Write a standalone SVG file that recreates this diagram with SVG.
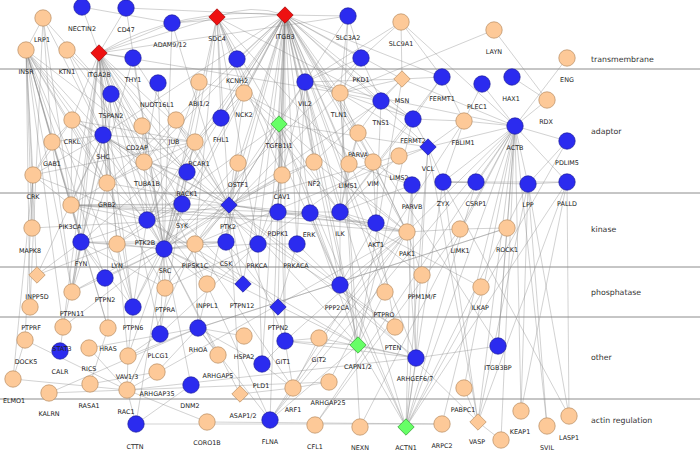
<svg xmlns="http://www.w3.org/2000/svg" xmlns:xlink="http://www.w3.org/1999/xlink" width="700" height="451" viewBox="0 0 700 451">
<style>
#connectors path{fill:none;stroke:#8a8a8a;stroke-opacity:.55;stroke-width:.7}
.sep{stroke:#8c8c8c;stroke-width:1}
.o{fill:#fdc998;stroke:#b88c62;stroke-width:.7}
.b{fill:#2b2bef;stroke:#1c1c9c;stroke-width:.7}
.r{fill:#ee1111;stroke:#a00000;stroke-width:.7}
.g{fill:#66ff66;stroke:#2f9a2f;stroke-width:.7}
.t{font-family:"DejaVu Sans",Verdana,sans-serif;font-size:6.4px;fill:#222;text-anchor:middle}
.s{font-family:"DejaVu Sans",Verdana,sans-serif;font-size:7.8px;fill:#333}
</style>
<defs>
<circle id="c" r="8.2"/>
<path id="d" d="M0-8.2L8.2 0 0 8.2-8.2 0Z"/>
</defs>
<rect width="700" height="451" fill="#fff"/>
<g id="connectors">
<path d="M217 17Q251 3 285 15"/><path d="M99 53Q180 5 285 15"/>
<path d="M285 15L348 16"/><path d="M285 15L172 23"/><path d="M285 15L126 8"/><path d="M285 15L237 59"/><path d="M285 15L305 82"/><path d="M285 15L340 93"/><path d="M285 15L279 124"/><path d="M285 15L221 118"/><path d="M285 15L244 93"/><path d="M285 15L361 58"/><path d="M285 15L381 101"/><path d="M285 15L402 79"/><path d="M285 15L442 77"/><path d="M285 15L413 119"/><path d="M285 15L428 147"/><path d="M285 15L358 133"/><path d="M285 15L349 164"/><path d="M285 15L314 162"/><path d="M285 15L282 175"/><path d="M285 15L238 163"/><path d="M285 15L187 172"/><path d="M285 15L195 142"/><path d="M285 15L229 205"/><path d="M285 15L182 204"/><path d="M285 15L164 249"/><path d="M285 15L147 220"/><path d="M285 15L340 212"/><path d="M285 15L278 212"/><path d="M285 15L310 213"/><path d="M285 15L376 223"/><path d="M285 15L407 232"/><path d="M285 15L258 244"/><path d="M285 15L226 242"/><path d="M285 15L243 284"/><path d="M285 15L278 307"/><path d="M285 15L340 285"/><path d="M285 15L285 341"/><path d="M285 15L358 345"/><path d="M285 15L416 358"/><path d="M285 15L406 427"/><path d="M285 15L270 420"/><path d="M285 15L498 346"/><path d="M285 15L107 183"/><path d="M285 15L103 135"/><path d="M285 15L144 162"/><path d="M285 15L262 364"/><path d="M285 15L297 244"/><path d="M285 15L373 162"/><path d="M285 15L385 292"/>
<path d="M99 53L126 8"/><path d="M99 53L82 7"/><path d="M99 53L172 23"/><path d="M99 53L133 58"/><path d="M99 53L111 94"/><path d="M99 53L217 17"/><path d="M99 53L103 135"/><path d="M99 53L72 120"/><path d="M99 53L142 126"/><path d="M99 53L187 172"/><path d="M99 53L229 205"/><path d="M99 53L164 249"/><path d="M99 53L182 204"/><path d="M99 53L133 307"/><path d="M99 53L81 242"/><path d="M99 53L117 244"/><path d="M99 53L71 205"/><path d="M99 53L147 220"/><path d="M99 53L340 93"/><path d="M99 53L160 334"/><path d="M99 53L60 351"/><path d="M99 53L270 420"/><path d="M99 53L128 356"/><path d="M99 53L72 292"/><path d="M99 53L144 162"/><path d="M99 53L107 183"/><path d="M99 53L195 142"/><path d="M99 53L348 16"/>
<path d="M26 50L103 135"/><path d="M26 50L107 183"/><path d="M26 50L52 142"/><path d="M26 50L71 205"/><path d="M26 50L72 292"/><path d="M26 50L30 307"/><path d="M26 50L105 278"/><path d="M26 50L207 284"/><path d="M26 50L33 175"/><path d="M26 50L81 242"/><path d="M26 50L164 249"/><path d="M26 50L133 307"/><path d="M26 50L63 327"/><path d="M26 50L165 288"/><path d="M26 50L108 328"/><path d="M26 50L37 275"/><path d="M26 50L32 228"/><path d="M26 50L229 205"/><path d="M26 50L43 18"/>
<path d="M43 18L103 135"/><path d="M43 18L52 142"/><path d="M43 18L71 205"/><path d="M43 18L30 307"/><path d="M43 18L111 94"/>
<path d="M67 50L103 135"/><path d="M67 50L187 172"/><path d="M67 50L144 162"/>
<path d="M133 58L164 249"/><path d="M133 58L81 242"/><path d="M133 58L229 205"/><path d="M172 23L217 17"/><path d="M172 23L164 249"/><path d="M172 23L229 205"/><path d="M82 7L172 23"/><path d="M126 8L164 249"/>
<path d="M217 17L244 93"/><path d="M217 17L221 118"/><path d="M217 17L258 244"/><path d="M217 17L229 205"/><path d="M217 17L164 249"/><path d="M217 17L406 427"/><path d="M217 17L182 204"/><path d="M217 17L279 124"/><path d="M217 17L282 175"/><path d="M217 17L195 244"/><path d="M217 17L413 119"/><path d="M217 17L237 59"/><path d="M217 17L349 164"/>
<path d="M348 16L305 82"/><path d="M348 16L361 58"/><path d="M348 16L340 93"/><path d="M348 16L340 212"/>
<path d="M401 22L402 79"/><path d="M401 22L361 58"/><path d="M401 22L442 77"/><path d="M401 22L515 126"/><path d="M401 22L305 82"/>
<path d="M494 30L340 93"/><path d="M494 30L547 100"/><path d="M567 58L515 126"/>
<path d="M361 58L305 82"/><path d="M361 58L340 93"/><path d="M361 58L381 101"/><path d="M361 58L164 249"/>
<path d="M305 82L340 93"/><path d="M305 82L229 205"/><path d="M305 82L195 244"/><path d="M305 82L314 162"/><path d="M305 82L282 175"/><path d="M305 82L297 244"/><path d="M305 82L515 126"/><path d="M305 82L402 79"/>
<path d="M402 79L340 93"/><path d="M402 79L381 101"/><path d="M402 79L515 126"/><path d="M402 79L314 162"/><path d="M402 79L358 345"/><path d="M402 79L442 77"/>
<path d="M442 77L340 212"/><path d="M442 77L464 121"/><path d="M442 77L413 119"/><path d="M482 84L515 126"/><path d="M482 84L464 121"/><path d="M512 77L547 100"/><path d="M547 100L515 126"/>
<path d="M381 101L229 205"/><path d="M381 101L340 93"/><path d="M381 101L413 119"/><path d="M381 101L376 223"/><path d="M381 101L358 133"/>
<path d="M413 119L464 121"/><path d="M413 119L340 212"/><path d="M413 119L340 93"/><path d="M413 119L428 147"/>
<path d="M464 121L515 126"/><path d="M464 121L428 147"/><path d="M464 121L443 182"/><path d="M464 121L270 420"/>
<path d="M515 126L507 228"/><path d="M515 126L460 229"/><path d="M515 126L406 427"/><path d="M515 126L442 424"/><path d="M515 126L315 425"/><path d="M515 126L478 422"/><path d="M515 126L528 184"/><path d="M515 126L567 182"/><path d="M515 126L443 182"/><path d="M515 126L567 141"/><path d="M515 126L464 388"/><path d="M515 126L521 411"/><path d="M515 126L547 426"/><path d="M515 126L476 182"/><path d="M515 126L498 346"/><path d="M515 126L407 232"/>
<path d="M567 141L528 184"/><path d="M567 141L406 427"/>
<path d="M567 182L569 416"/><path d="M567 182L478 422"/><path d="M567 182L406 427"/><path d="M567 182L443 182"/><path d="M567 182L528 184"/>
<path d="M528 184L443 182"/><path d="M528 184L478 422"/><path d="M528 184L406 427"/><path d="M528 184L569 416"/><path d="M528 184L547 426"/><path d="M528 184L521 411"/>
<path d="M72 120L103 135"/><path d="M72 120L52 142"/><path d="M72 120L33 175"/><path d="M72 120L195 142"/><path d="M72 120L71 205"/><path d="M72 120L107 183"/><path d="M72 120L229 205"/>
<path d="M103 135L107 183"/><path d="M103 135L229 205"/><path d="M103 135L164 249"/><path d="M103 135L81 242"/><path d="M103 135L71 205"/><path d="M103 135L52 142"/><path d="M103 135L33 175"/><path d="M103 135L72 292"/><path d="M103 135L182 204"/><path d="M103 135L195 142"/><path d="M103 135L144 162"/><path d="M103 135L133 307"/><path d="M103 135L243 284"/><path d="M103 135L37 275"/>
<path d="M142 126L144 162"/><path d="M142 126L187 172"/><path d="M142 126L164 249"/>
<path d="M176 120L195 142"/><path d="M176 120L229 205"/><path d="M176 120L144 162"/>
<path d="M279 124L229 205"/><path d="M279 124L147 220"/><path d="M279 124L282 175"/><path d="M279 124L428 147"/><path d="M279 124L340 212"/><path d="M279 124L285 341"/><path d="M279 124L340 285"/><path d="M279 124L406 427"/><path d="M279 124L278 212"/>
<path d="M244 93L407 232"/><path d="M244 93L340 212"/><path d="M244 93L229 205"/><path d="M244 93L199 82"/><path d="M244 93L412 185"/>
<path d="M199 82L147 220"/><path d="M199 82L164 249"/><path d="M158 83L144 162"/><path d="M158 83L164 249"/>
<path d="M111 94L144 162"/><path d="M111 94L103 135"/><path d="M111 94L107 183"/>
<path d="M52 142L107 183"/><path d="M52 142L71 205"/><path d="M52 142L72 292"/><path d="M52 142L33 175"/>
<path d="M33 175L71 205"/><path d="M33 175L195 142"/><path d="M33 175L32 228"/><path d="M33 175L25 340"/><path d="M33 175L147 220"/><path d="M33 175L13 379"/>
<path d="M195 142L229 205"/><path d="M195 142L164 249"/><path d="M195 142L147 220"/><path d="M195 142L107 183"/><path d="M195 142L81 242"/><path d="M195 142L244 93"/>
<path d="M144 162L147 220"/><path d="M144 162L164 249"/><path d="M144 162L107 183"/><path d="M144 162L187 172"/>
<path d="M238 163L164 249"/><path d="M238 163L229 205"/><path d="M238 163L226 242"/>
<path d="M314 162L229 205"/><path d="M314 162L407 232"/><path d="M314 162L282 175"/>
<path d="M349 164L340 212"/><path d="M349 164L358 133"/><path d="M349 164L412 185"/><path d="M399 156L340 212"/>
<path d="M373 162L407 232"/><path d="M373 162L376 223"/><path d="M373 162L258 244"/>
<path d="M358 133L340 212"/><path d="M358 133L340 93"/><path d="M358 133L407 232"/>
<path d="M412 185L340 212"/><path d="M412 185L407 232"/><path d="M412 185L416 358"/><path d="M412 185L406 427"/>
<path d="M443 182L406 427"/><path d="M443 182L478 422"/><path d="M443 182L476 182"/><path d="M443 182L569 416"/><path d="M443 182L428 147"/><path d="M476 182L406 427"/>
<path d="M428 147L340 93"/><path d="M428 147L406 427"/><path d="M428 147L515 126"/><path d="M428 147L229 205"/><path d="M428 147L195 244"/><path d="M428 147L416 358"/><path d="M428 147L478 422"/>
<path d="M71 205L229 205"/><path d="M71 205L164 249"/><path d="M71 205L81 242"/><path d="M71 205L107 183"/><path d="M71 205L147 220"/><path d="M71 205L376 223"/><path d="M71 205L278 212"/><path d="M71 205L182 204"/>
<path d="M229 205L164 249"/><path d="M229 205L107 183"/><path d="M229 205L243 284"/><path d="M229 205L285 341"/><path d="M229 205L358 345"/><path d="M229 205L72 292"/><path d="M229 205L165 288"/><path d="M229 205L198 328"/><path d="M229 205L282 175"/><path d="M229 205L278 212"/><path d="M229 205L416 358"/><path d="M229 205L407 232"/><path d="M229 205L395 327"/><path d="M229 205L226 242"/><path d="M229 205L195 244"/><path d="M229 205L310 213"/><path d="M229 205L147 220"/>
<path d="M147 220L164 249"/><path d="M147 220L81 242"/><path d="M147 220L117 244"/><path d="M147 220L182 204"/><path d="M147 220L243 284"/><path d="M147 220L133 307"/><path d="M147 220L107 183"/>
<path d="M164 249L226 242"/><path d="M164 249L165 288"/><path d="M164 249L133 307"/><path d="M164 249L72 292"/><path d="M164 249L243 284"/><path d="M164 249L160 334"/><path d="M164 249L63 327"/><path d="M164 249L282 175"/><path d="M164 249L195 244"/><path d="M164 249L187 172"/><path d="M164 249L136 424"/><path d="M164 249L258 244"/><path d="M164 249L182 204"/><path d="M164 249L81 242"/><path d="M164 249L117 244"/><path d="M164 249L191 385"/><path d="M164 249L240 394"/><path d="M164 249L105 278"/><path d="M164 249L218 355"/><path d="M164 249L207 284"/>
<path d="M182 204L117 244"/><path d="M182 204L160 334"/><path d="M182 204L133 307"/><path d="M182 204L128 356"/><path d="M182 204L187 172"/>
<path d="M81 242L117 244"/><path d="M81 242L226 242"/><path d="M81 242L72 292"/><path d="M81 242L37 275"/><path d="M81 242L133 307"/><path d="M81 242L105 278"/><path d="M81 242L63 327"/>
<path d="M117 244L133 307"/><path d="M117 244L37 275"/><path d="M117 244L226 242"/>
<path d="M226 242L243 284"/><path d="M226 242L278 307"/>
<path d="M195 244L340 93"/><path d="M195 244L198 328"/><path d="M195 244L127 390"/><path d="M195 244L293 388"/>
<path d="M258 244L187 172"/><path d="M258 244L297 244"/><path d="M258 244L160 334"/><path d="M258 244L165 288"/><path d="M258 244L282 175"/><path d="M258 244L262 364"/>
<path d="M297 244L478 422"/><path d="M297 244L278 307"/>
<path d="M278 212L376 223"/><path d="M278 212L258 244"/><path d="M278 212L340 212"/>
<path d="M310 213L407 232"/><path d="M310 213L358 345"/><path d="M310 213L340 285"/><path d="M310 213L32 228"/>
<path d="M340 212L376 223"/><path d="M340 212L481 287"/><path d="M340 212L340 285"/><path d="M340 212L422 275"/>
<path d="M376 223L407 232"/><path d="M376 223L395 327"/>
<path d="M407 232L460 229"/><path d="M407 232L127 390"/><path d="M407 232L285 341"/><path d="M407 232L416 358"/><path d="M407 232L422 275"/><path d="M407 232L71 205"/>
<path d="M460 229L315 425"/><path d="M460 229L507 228"/><path d="M507 228L198 328"/><path d="M507 228L498 346"/>
<path d="M72 292L107 183"/><path d="M165 288L81 242"/><path d="M340 285L376 223"/><path d="M340 285L407 232"/><path d="M133 307L128 356"/>
<path d="M358 345L340 93"/><path d="M358 345L164 249"/><path d="M358 345L406 427"/><path d="M358 345L270 420"/><path d="M358 345L416 358"/><path d="M358 345L385 292"/><path d="M358 345L147 220"/><path d="M358 345L305 82"/><path d="M358 345L413 119"/><path d="M358 345L285 341"/>
<path d="M416 358L285 341"/><path d="M416 358L127 390"/><path d="M416 358L406 427"/><path d="M416 358L498 346"/>
<path d="M395 327L103 135"/>
<path d="M285 341L293 388"/><path d="M285 341L319 338"/><path d="M285 341L262 364"/>
<path d="M319 338L293 388"/><path d="M319 338L407 232"/><path d="M319 338L416 358"/>
<path d="M262 364L293 388"/><path d="M262 364L198 328"/><path d="M293 388L240 394"/><path d="M240 394L229 205"/>
<path d="M329 382L293 388"/><path d="M329 382L407 232"/><path d="M218 355L198 328"/><path d="M157 372L198 328"/><path d="M157 372L90 384"/>
<path d="M198 328L507 228"/><path d="M198 328L128 356"/><path d="M198 328L49 393"/><path d="M198 328L244 336"/>
<path d="M191 385L136 424"/><path d="M128 356L127 390"/><path d="M128 356L160 334"/>
<path d="M127 390L49 393"/><path d="M127 390L13 379"/><path d="M127 390L25 340"/><path d="M127 390L136 424"/><path d="M127 390L329 382"/><path d="M127 390L207 422"/>
<path d="M13 379L25 340"/><path d="M90 384L108 328"/><path d="M108 328L107 183"/><path d="M108 328L71 205"/><path d="M89 348L198 328"/><path d="M89 348L127 390"/>
<path d="M136 424L442 424"/><path d="M207 422L442 424"/>
<path d="M270 420L515 126"/><path d="M270 420L198 328"/><path d="M270 420L407 232"/>
<path d="M360 427L515 126"/><path d="M360 427L340 93"/>
<path d="M501 440L478 422"/><path d="M501 440L515 126"/><path d="M521 411L567 182"/><path d="M464 388L478 422"/>
</g>
<g id="separators">
<line class="sep" x1="0" y1="69" x2="700" y2="69"/>
<line class="sep" x1="0" y1="193" x2="700" y2="193"/>
<line class="sep" x1="0" y1="267" x2="700" y2="267"/>
<line class="sep" x1="0" y1="317" x2="700" y2="317"/>
<line class="sep" x1="0" y1="399" x2="700" y2="399"/>
</g>
<g id="section-labels">
<text class="s" x="591" y="62">transmembrane</text>
<text class="s" x="591" y="134">adaptor</text>
<text class="s" x="591" y="232">kinase</text>
<text class="s" x="591" y="295">phosphatase</text>
<text class="s" x="591" y="360">other</text>
<text class="s" x="591" y="423">actin regulation</text>
</g>
<g id="nodes">
<g id="n-NECTIN2"><use href="#c" x="82" y="7" class="b"/><text class="t" x="82" y="31">NECTIN2</text></g>
<g id="n-CD47"><use href="#c" x="126" y="8" class="b"/><text class="t" x="126" y="32">CD47</text></g>
<g id="n-LRP1"><use href="#c" x="43" y="18" class="o"/><text class="t" x="42" y="42">LRP1</text></g>
<g id="n-INSR"><use href="#c" x="26" y="50" class="o"/><text class="t" x="26" y="74">INSR</text></g>
<g id="n-KTN1"><use href="#c" x="67" y="50" class="o"/><text class="t" x="67" y="74">KTN1</text></g>
<g id="n-ITGA2B"><use href="#d" x="99" y="53" class="r"/><text class="t" x="99" y="77">ITGA2B</text></g>
<g id="n-ADAM9-12"><use href="#c" x="172" y="23" class="b"/><text class="t" x="170" y="47">ADAM9/12</text></g>
<g id="n-THY1"><use href="#c" x="133" y="58" class="b"/><text class="t" x="133" y="82">THY1</text></g>
<g id="n-SDC4"><use href="#d" x="217" y="17" class="r"/><text class="t" x="217" y="41">SDC4</text></g>
<g id="n-ITGB3"><use href="#d" x="285" y="15" class="r"/><text class="t" x="285" y="39">ITGB3</text></g>
<g id="n-SLC3A2"><use href="#c" x="348" y="16" class="b"/><text class="t" x="348" y="40">SLC3A2</text></g>
<g id="n-SLC9A1"><use href="#c" x="401" y="22" class="o"/><text class="t" x="401" y="46">SLC9A1</text></g>
<g id="n-LAYN"><use href="#c" x="494" y="30" class="o"/><text class="t" x="494" y="54">LAYN</text></g>
<g id="n-ENG"><use href="#c" x="567" y="58" class="o"/><text class="t" x="567" y="82">ENG</text></g>
<g id="n-PKD1"><use href="#c" x="361" y="58" class="b"/><text class="t" x="361" y="82">PKD1</text></g>
<g id="n-KCNH2"><use href="#c" x="237" y="59" class="b"/><text class="t" x="237" y="83">KCNH2</text></g>
<g id="n-NUDT16L1"><use href="#c" x="158" y="83" class="b"/><text class="t" x="157" y="107">NUDT16L1</text></g>
<g id="n-ABI1-2"><use href="#c" x="199" y="82" class="o"/><text class="t" x="199" y="106">ABI1/2</text></g>
<g id="n-TSPAN2"><use href="#c" x="111" y="94" class="b"/><text class="t" x="111" y="118">TSPAN2</text></g>
<g id="n-NCK2"><use href="#c" x="244" y="93" class="o"/><text class="t" x="244" y="117">NCK2</text></g>
<g id="n-VIL2"><use href="#c" x="305" y="82" class="b"/><text class="t" x="305" y="106">VIL2</text></g>
<g id="n-TLN1"><use href="#c" x="340" y="93" class="o"/><text class="t" x="339" y="117">TLN1</text></g>
<g id="n-MSN"><use href="#d" x="402" y="79" class="o"/><text class="t" x="402" y="103">MSN</text></g>
<g id="n-FERMT1"><use href="#c" x="442" y="77" class="b"/><text class="t" x="442" y="101">FERMT1</text></g>
<g id="n-PLEC1"><use href="#c" x="482" y="84" class="b"/><text class="t" x="477" y="109">PLEC1</text></g>
<g id="n-HAX1"><use href="#c" x="512" y="77" class="b"/><text class="t" x="511" y="101">HAX1</text></g>
<g id="n-RDX"><use href="#c" x="547" y="100" class="o"/><text class="t" x="546" y="124">RDX</text></g>
<g id="n-TNS1"><use href="#c" x="381" y="101" class="b"/><text class="t" x="381" y="125">TNS1</text></g>
<g id="n-FERMT2"><use href="#c" x="413" y="119" class="b"/><text class="t" x="413" y="143">FERMT2</text></g>
<g id="n-FBLIM1"><use href="#c" x="464" y="121" class="o"/><text class="t" x="463" y="145">FBLIM1</text></g>
<g id="n-ACTB"><use href="#c" x="515" y="126" class="b"/><text class="t" x="515" y="150">ACTB</text></g>
<g id="n-PDLIM5"><use href="#c" x="567" y="141" class="b"/><text class="t" x="567" y="165">PDLIM5</text></g>
<g id="n-CRKL"><use href="#c" x="72" y="120" class="o"/><text class="t" x="72" y="144">CRKL</text></g>
<g id="n-SHC"><use href="#c" x="103" y="135" class="b"/><text class="t" x="103" y="159">SHC</text></g>
<g id="n-CD2AP"><use href="#c" x="142" y="126" class="o"/><text class="t" x="137" y="150">CD2AP</text></g>
<g id="n-JUB"><use href="#c" x="176" y="120" class="o"/><text class="t" x="174" y="144">JUB</text></g>
<g id="n-FHL1"><use href="#c" x="221" y="118" class="b"/><text class="t" x="221" y="142">FHL1</text></g>
<g id="n-TGFB1I1"><use href="#d" x="279" y="124" class="g"/><text class="t" x="279" y="148">TGFB1I1</text></g>
<g id="n-PARVA"><use href="#c" x="358" y="133" class="o"/><text class="t" x="358" y="157">PARVA</text></g>
<g id="n-VCL"><use href="#d" x="428" y="147" class="b"/><text class="t" x="428" y="171">VCL</text></g>
<g id="n-GAB1"><use href="#c" x="52" y="142" class="o"/><text class="t" x="52" y="166">GAB1</text></g>
<g id="n-BCAR1"><use href="#c" x="195" y="142" class="o"/><text class="t" x="199" y="166">BCAR1</text></g>
<g id="n-TUBA1B"><use href="#c" x="144" y="162" class="o"/><text class="t" x="147" y="186">TUBA1B</text></g>
<g id="n-OSTF1"><use href="#c" x="238" y="163" class="o"/><text class="t" x="238" y="187">OSTF1</text></g>
<g id="n-NF2"><use href="#c" x="314" y="162" class="o"/><text class="t" x="314" y="186">NF2</text></g>
<g id="n-LIMS1"><use href="#c" x="349" y="164" class="o"/><text class="t" x="348" y="188">LIMS1</text></g>
<g id="n-VIM"><use href="#c" x="373" y="162" class="o"/><text class="t" x="373" y="186">VIM</text></g>
<g id="n-LIMS2"><use href="#c" x="399" y="156" class="o"/><text class="t" x="399" y="180">LIMS2</text></g>
<g id="n-CRK"><use href="#c" x="33" y="175" class="o"/><text class="t" x="33" y="199">CRK</text></g>
<g id="n-RACK1"><use href="#c" x="187" y="172" class="b"/><text class="t" x="187" y="196">RACK1</text></g>
<g id="n-CAV1"><use href="#c" x="282" y="175" class="o"/><text class="t" x="282" y="199">CAV1</text></g>
<g id="n-GRB2"><use href="#c" x="107" y="183" class="o"/><text class="t" x="107" y="207">GRB2</text></g>
<g id="n-PARVB"><use href="#c" x="412" y="185" class="b"/><text class="t" x="412" y="209">PARVB</text></g>
<g id="n-ZYX"><use href="#c" x="443" y="182" class="b"/><text class="t" x="443" y="206">ZYX</text></g>
<g id="n-CSRP1"><use href="#c" x="476" y="182" class="b"/><text class="t" x="476" y="206">CSRP1</text></g>
<g id="n-LPP"><use href="#c" x="528" y="184" class="b"/><text class="t" x="528" y="207">LPP</text></g>
<g id="n-PALLD"><use href="#c" x="567" y="182" class="b"/><text class="t" x="567" y="206">PALLD</text></g>
<g id="n-MAPK8"><use href="#c" x="32" y="228" class="o"/><text class="t" x="30" y="253">MAPK8</text></g>
<g id="n-PIK3CA"><use href="#c" x="71" y="205" class="o"/><text class="t" x="70" y="229">PIK3CA</text></g>
<g id="n-SYK"><use href="#c" x="182" y="204" class="b"/><text class="t" x="182" y="228">SYK</text></g>
<g id="n-PTK2"><use href="#d" x="229" y="205" class="b"/><text class="t" x="228" y="229">PTK2</text></g>
<g id="n-PTK2B"><use href="#c" x="147" y="220" class="b"/><text class="t" x="145" y="245">PTK2B</text></g>
<g id="n-PDPK1"><use href="#c" x="278" y="212" class="b"/><text class="t" x="278" y="236">PDPK1</text></g>
<g id="n-ERK"><use href="#c" x="310" y="213" class="b"/><text class="t" x="309" y="237">ERK</text></g>
<g id="n-ILK"><use href="#c" x="340" y="212" class="b"/><text class="t" x="340" y="236">ILK</text></g>
<g id="n-AKT1"><use href="#c" x="376" y="223" class="b"/><text class="t" x="376" y="247">AKT1</text></g>
<g id="n-PAK1"><use href="#c" x="407" y="232" class="o"/><text class="t" x="407" y="256">PAK1</text></g>
<g id="n-LIMK1"><use href="#c" x="460" y="229" class="o"/><text class="t" x="460" y="253">LIMK1</text></g>
<g id="n-ROCK1"><use href="#c" x="507" y="228" class="o"/><text class="t" x="507" y="252">ROCK1</text></g>
<g id="n-FYN"><use href="#c" x="81" y="242" class="b"/><text class="t" x="81" y="266">FYN</text></g>
<g id="n-LYN"><use href="#c" x="117" y="244" class="o"/><text class="t" x="117" y="268">LYN</text></g>
<g id="n-SRC"><use href="#c" x="164" y="249" class="b"/><text class="t" x="165" y="273">SRC</text></g>
<g id="n-PIP5K1C"><use href="#c" x="195" y="244" class="o"/><text class="t" x="195" y="268">PIP5K1C</text></g>
<g id="n-CSK"><use href="#c" x="226" y="242" class="b"/><text class="t" x="226" y="266">CSK</text></g>
<g id="n-PRKCA"><use href="#c" x="258" y="244" class="b"/><text class="t" x="257" y="268">PRKCA</text></g>
<g id="n-PRKACA"><use href="#c" x="297" y="244" class="b"/><text class="t" x="296" y="268">PRKACA</text></g>
<g id="n-INPP5D"><use href="#d" x="37" y="275" class="o"/><text class="t" x="37" y="299">INPP5D</text></g>
<g id="n-PTPN2-a"><use href="#c" x="105" y="278" class="b"/><text class="t" x="105" y="302">PTPN2</text></g>
<g id="n-PTPN11"><use href="#c" x="72" y="292" class="o"/><text class="t" x="72" y="316">PTPN11</text></g>
<g id="n-PTPRA"><use href="#c" x="165" y="288" class="o"/><text class="t" x="165" y="312">PTPRA</text></g>
<g id="n-INPPL1"><use href="#c" x="207" y="284" class="o"/><text class="t" x="207" y="308">INPPL1</text></g>
<g id="n-PTPN12"><use href="#d" x="243" y="284" class="b"/><text class="t" x="242" y="308">PTPN12</text></g>
<g id="n-PPP2CA"><use href="#c" x="340" y="285" class="b"/><text class="t" x="337" y="310">PPP2CA</text></g>
<g id="n-PPM1M-F"><use href="#c" x="422" y="275" class="o"/><text class="t" x="422" y="299">PPM1M/F</text></g>
<g id="n-PTPRO"><use href="#c" x="385" y="292" class="o"/><text class="t" x="384" y="317">PTPRO</text></g>
<g id="n-ILKAP"><use href="#c" x="481" y="287" class="o"/><text class="t" x="480" y="310">ILKAP</text></g>
<g id="n-PTPRF"><use href="#c" x="30" y="307" class="o"/><text class="t" x="31" y="330">PTPRF</text></g>
<g id="n-PTPN6"><use href="#c" x="133" y="307" class="b"/><text class="t" x="133" y="330">PTPN6</text></g>
<g id="n-PTPN2-b"><use href="#d" x="278" y="307" class="b"/><text class="t" x="278" y="330">PTPN2</text></g>
<g id="n-DOCK5"><use href="#c" x="25" y="340" class="o"/><text class="t" x="26" y="364">DOCK5</text></g>
<g id="n-CALR"><use href="#c" x="60" y="351" class="b"/><text class="t" x="60" y="374">CALR</text></g>
<g id="n-STAT3"><use href="#c" x="63" y="327" class="o"/><text class="t" x="62" y="351">STAT3</text></g>
<g id="n-HRAS"><use href="#c" x="108" y="328" class="o"/><text class="t" x="108" y="351">HRAS</text></g>
<g id="n-RICS"><use href="#c" x="89" y="348" class="o"/><text class="t" x="89" y="371">RICS</text></g>
<g id="n-PLCG1"><use href="#c" x="160" y="334" class="b"/><text class="t" x="158" y="358">PLCG1</text></g>
<g id="n-VAV1-3"><use href="#c" x="128" y="356" class="o"/><text class="t" x="127" y="379">VAV1/3</text></g>
<g id="n-ARHGAP35"><use href="#c" x="157" y="372" class="o"/><text class="t" x="157" y="396">ARHGAP35</text></g>
<g id="n-RHOA"><use href="#c" x="198" y="328" class="b"/><text class="t" x="198" y="352">RHOA</text></g>
<g id="n-HSPA2"><use href="#c" x="244" y="336" class="o"/><text class="t" x="244" y="359">HSPA2</text></g>
<g id="n-ARHGAP5"><use href="#c" x="218" y="355" class="o"/><text class="t" x="218" y="378">ARHGAP5</text></g>
<g id="n-GIT1"><use href="#c" x="285" y="341" class="b"/><text class="t" x="283" y="364">GIT1</text></g>
<g id="n-GIT2"><use href="#c" x="319" y="338" class="o"/><text class="t" x="319" y="362">GIT2</text></g>
<g id="n-PLD1"><use href="#c" x="262" y="364" class="b"/><text class="t" x="261" y="388">PLD1</text></g>
<g id="n-DNM2"><use href="#c" x="191" y="385" class="b"/><text class="t" x="190" y="408">DNM2</text></g>
<g id="n-ASAP1-2"><use href="#d" x="240" y="394" class="o"/><text class="t" x="243" y="418">ASAP1/2</text></g>
<g id="n-ARF1"><use href="#c" x="293" y="388" class="o"/><text class="t" x="293" y="412">ARF1</text></g>
<g id="n-ARHGAP25"><use href="#c" x="329" y="382" class="o"/><text class="t" x="328" y="405">ARHGAP25</text></g>
<g id="n-CAPN1-2"><use href="#d" x="358" y="345" class="g"/><text class="t" x="358" y="369">CAPN1/2</text></g>
<g id="n-PTEN"><use href="#c" x="395" y="327" class="o"/><text class="t" x="393" y="350">PTEN</text></g>
<g id="n-ARHGEF6-7"><use href="#c" x="416" y="358" class="b"/><text class="t" x="415" y="381">ARHGEF6/7</text></g>
<g id="n-ITGB3BP"><use href="#c" x="498" y="346" class="b"/><text class="t" x="498" y="370">ITGB3BP</text></g>
<g id="n-PABPC1"><use href="#c" x="464" y="388" class="o"/><text class="t" x="463" y="412">PABPC1</text></g>
<g id="n-ELMO1"><use href="#c" x="13" y="379" class="o"/><text class="t" x="14" y="403">ELMO1</text></g>
<g id="n-KALRN"><use href="#c" x="49" y="393" class="o"/><text class="t" x="49" y="416">KALRN</text></g>
<g id="n-RASA1"><use href="#c" x="90" y="384" class="o"/><text class="t" x="89" y="408">RASA1</text></g>
<g id="n-RAC1"><use href="#c" x="127" y="390" class="o"/><text class="t" x="126" y="414">RAC1</text></g>
<g id="n-CTTN"><use href="#c" x="136" y="424" class="b"/><text class="t" x="135" y="449">CTTN</text></g>
<g id="n-CORO1B"><use href="#c" x="207" y="422" class="o"/><text class="t" x="207" y="445">CORO1B</text></g>
<g id="n-FLNA"><use href="#c" x="270" y="420" class="b"/><text class="t" x="270" y="444">FLNA</text></g>
<g id="n-CFL1"><use href="#c" x="315" y="425" class="o"/><text class="t" x="315" y="449">CFL1</text></g>
<g id="n-NEXN"><use href="#c" x="360" y="427" class="o"/><text class="t" x="360" y="450">NEXN</text></g>
<g id="n-ACTN1"><use href="#d" x="406" y="427" class="g"/><text class="t" x="406" y="450">ACTN1</text></g>
<g id="n-ARPC2"><use href="#c" x="442" y="424" class="o"/><text class="t" x="442" y="448">ARPC2</text></g>
<g id="n-VASP"><use href="#d" x="478" y="422" class="o"/><text class="t" x="477" y="444">VASP</text></g>
<g id="n-unlabeled"><use href="#c" x="501" y="440" class="o"/></g>
<g id="n-KEAP1"><use href="#c" x="521" y="411" class="o"/><text class="t" x="520" y="434">KEAP1</text></g>
<g id="n-SVIL"><use href="#c" x="547" y="426" class="o"/><text class="t" x="547" y="450">SVIL</text></g>
<g id="n-LASP1"><use href="#c" x="569" y="416" class="o"/><text class="t" x="569" y="440">LASP1</text></g>
</g>
</svg>
